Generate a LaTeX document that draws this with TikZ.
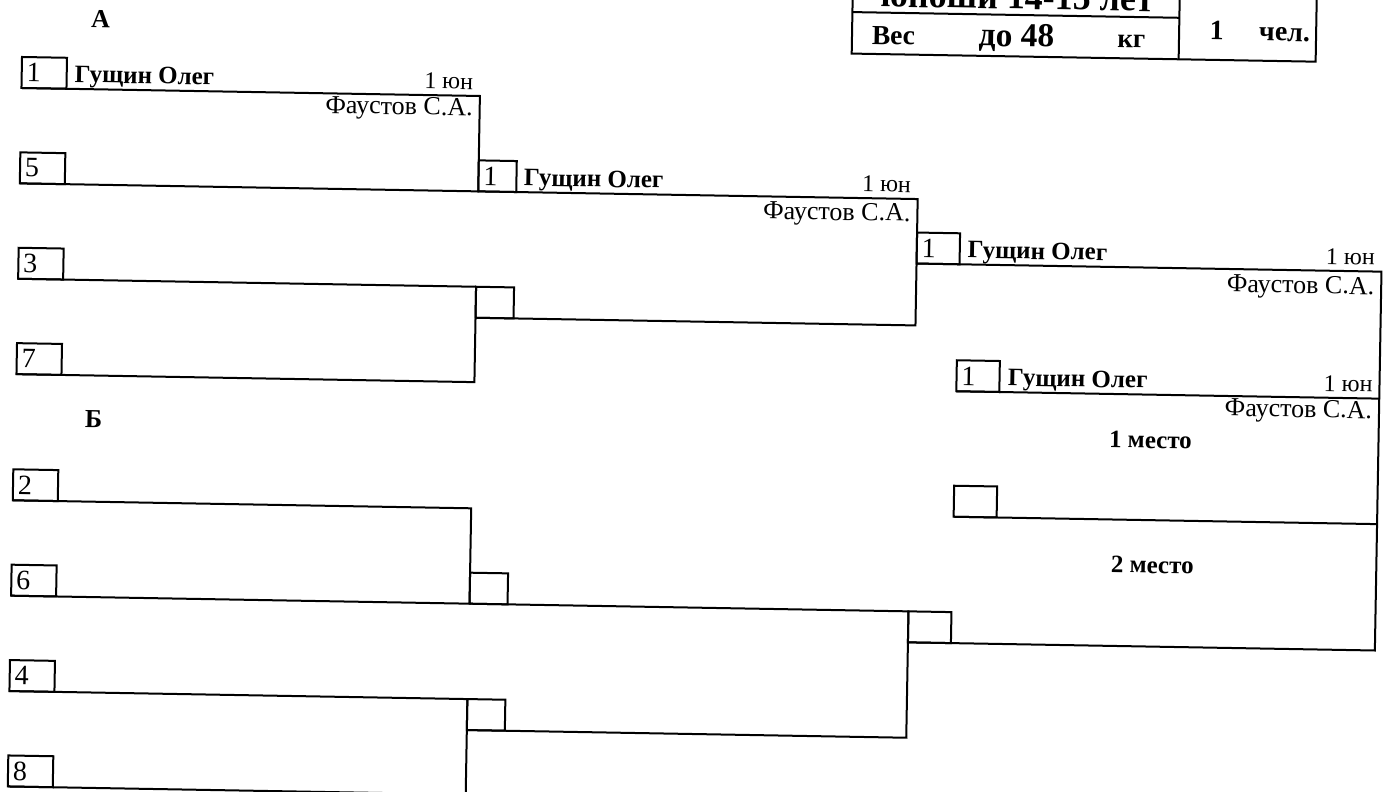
\documentclass[tikz,border=0pt]{standalone}
\usepackage{fontspec}
\setmainfont{Liberation Serif}

\tikzset{
  cell/.style={draw, outer sep=0pt, inner xsep=2.5pt, inner ysep=0pt, minimum height=15.5pt,
    align=left, anchor=south west, font=\fontsize{14}{14}\selectfont},
  seedbox/.style={cell, minimum width=22.5pt, text width=17.5pt},
  roundbox/.style={cell, minimum width=19pt, text width=14pt},
  lastbox/.style={cell, minimum width=21.5pt, text width=16.5pt},
  winner/.style={anchor=base west, inner sep=0pt, font=\fontsize{12.5}{15}\selectfont\bfseries},
  rank/.style={anchor=base east, inner sep=0pt, font=\fontsize{12}{15}\selectfont},
  coach/.style={anchor=base east, inner sep=0pt, font=\fontsize{13}{15}\selectfont},
  place/.style={anchor=base, inner sep=0pt, font=\fontsize{12.5}{15}\selectfont\bfseries},
  pool/.style={anchor=base, inner sep=0pt, font=\fontsize{13}{15}\selectfont\bfseries},
  head/.style={anchor=base, inner sep=0pt, font=\fontsize{#1}{20}\selectfont\bfseries},
}

\begin{document}
\begin{tikzpicture}[x=0.5pt, y=-0.5pt, line width=1pt]
    \useasboundingbox (0,0) rectangle (1393,792);
    \clip (0,0) rectangle (1393,792);
    \fill[white] (0,0) rectangle (1393,792);

    % the sheet lies slightly askew on the scan
    \begin{scope}[rotate=-1, transform shape]

    % Header table
    \draw (852.5,-45) rectangle (1316.5,38.7);
    \draw (1179.5,-45) -- (1179.5,38.7);
    \draw (852.5,-2.8) -- (1179.5,-2.8);
    \node[head=18] (age) at (1017,-8.8) {юноши 14-15 лет};
    \node[head=13.8] (wlab) at (894,28.8) {Вес};
    \node[head=16.7] (wval) at (1017,28.8) {до 48};
    \node[head=13.5] (wunit) at (1132,28.2) {кг};
    \node[head=14] (cnt) at (1217,18.6) {1};
    \node[head=14, anchor=base west] (cntu) at (1258.5,18.6) {чел.};

    % Pool A
    \node[pool] (pa) at (101,26) {А};
    \node[seedbox] (s1) at (23,87.6) {1};
    \node[seedbox] (s5) at (23,183) {5};
    \node[seedbox] (s3) at (23,278.4) {3};
    \node[seedbox] (s7) at (23,373.8) {7};
    \draw (s1.south west) -- ++(458.5,0) |- (s5.south west);
    \draw (s3.south west) -- ++(458,0) |- (s7.south west);
    \node[winner] (n1) at (75,81) {Гущин Олег};
    \node[rank] (r1) at (475.5,81) {1 юн};
    \node[coach] (c1) at (475.5,107.5) {Фаустов С.А.};

    % Pool A, second round
    \node[roundbox] (a15) at (481.5,183) {1};
    \node[roundbox, anchor=north west] (a37) at (481,278.4) {};
    \draw (a15.south west) -- ++(439.5,0) |- (a37.south west);
    \node[winner] (n2) at (526,176.5) {Гущин Олег};
    \node[rank] (r2) at (915,176.5) {1 юн};
    \node[coach] (c2) at (915,205.5) {Фаустов С.А.};

    % Pool A, winner
    \node[lastbox] (a3) at (921,247.5) {1};
    \node[winner] (n3) at (971,241) {Гущин Олег};
    \node[rank] (r3) at (1380,241) {1 юн};
    \node[coach] (c3) at (1380,270.5) {Фаустов С.А.};

    % Pool B
    \node[pool] (pb) at (101,426) {Б};
    \node[seedbox] (s2) at (21.5,500) {2};
    \node[seedbox] (s6) at (21.5,595.4) {6};
    \node[seedbox] (s4) at (21.5,690.8) {4};
    \node[seedbox] (s8) at (21.5,786.2) {8};
    \draw (s2.south west) -- ++(458.5,0) |- (s6.south west);
    \draw (s4.south west) -- ++(458,0) |- (s8.south west);

    % Pool B, second round and winner
    \node[roundbox] (b26) at (480,595.4) {};
    \node[roundbox, anchor=north west] (b48) at (479.5,690.8) {};
    \draw (b26.south west) -- ++(439,0) |- (b48.south west);
    \node[lastbox, anchor=north west] (b3) at (919,595.4) {};

    % Final
    \draw (a3.south west) -- ++(465,0) |- (b3.south west);
    \node[lastbox] (gold) at (963,374.5) {1};
    \node[lastbox] (silver) at (962.5,500) {};
    \draw (gold.south west) -- ++(423,0);
    \draw (silver.south west) -- ++(423.5,0);
    \node[winner] (n4) at (1013.5,368) {Гущин Олег};
    \node[rank] (r4) at (1380,368) {1 юн};
    \node[coach] (c4) at (1380,394.5) {Фаустов С.А.};
    \node[place] (p1) at (1158,428.2) {1 место};
    \node[place] (p2) at (1162,553) {2 место};

    \end{scope}
\end{tikzpicture}
\end{document}
